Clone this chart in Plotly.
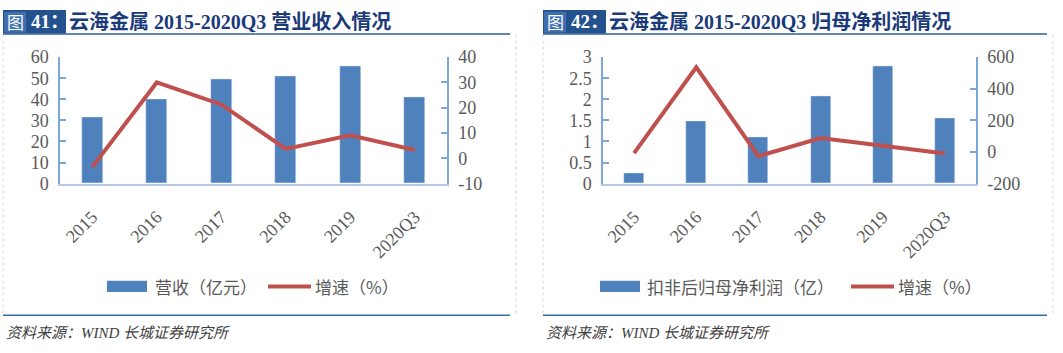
import plotly.graph_objects as go

W, H = 1063, 353

categories = ["2015", "2016", "2017", "2018", "2019", "2020Q3"]
revenue = [31.3, 40.3, 49.4, 51.0, 55.8, 40.9]
revenue_growth = [-3.5, 30.0, 21.3, 3.7, 9.1, 3.3]
profit = [0.24, 1.49, 1.10, 2.08, 2.79, 1.545]
profit_growth = [-7, 536, -27, 88, 39, -9]

left_y_ticks = [0, 10, 20, 30, 40, 50, 60]
left_y2_ticks = [-10, 0, 10, 20, 30, 40]
right_y_ticks = [0, 0.5, 1, 1.5, 2, 2.5, 3]
right_y2_ticks = [-200, 0, 200, 400, 600]

title_left = "云海金属 2015-2020Q3 营业收入情况"
title_right = "云海金属 2015-2020Q3 归母净利润情况"
fig_no_left = "41："
fig_no_right = "42："
legend_left = ["营收（亿元）", "增速（%）"]
legend_right = ["扣非后归母净利润（亿）", "增速（%）"]
source_text = "资料来源：<i>WIND</i> 长城证券研究所"

BAR = "#4f81bd"
LINE = "#c0504d"
AXIS = "#7ea6d8"
BOTTOM = "#b7c9e2"
TICKC = "#595959"
NAVY = "#1b3a7a"
SERIF = "Liberation Serif, Times New Roman, serif"
CJK = "Noto Sans CJK SC, sans-serif"
MIX = "Liberation Serif, Noto Sans CJK SC, serif"


def px(x):
    return x / W


def py(y):
    return 1 - y / H


def labels(vals):
    return [("%g" % v) for v in vals]


fig = go.Figure()

fig.add_trace(go.Bar(x=categories, y=revenue, marker_color=BAR, width=0.32,
                     xaxis="x", yaxis="y", showlegend=False))
fig.add_trace(go.Scatter(x=categories, y=revenue_growth, mode="lines",
                         line=dict(color=LINE, width=4), xaxis="x", yaxis="y2",
                         showlegend=False))
fig.add_trace(go.Bar(x=categories, y=profit, marker_color=BAR, width=0.32,
                     xaxis="x2", yaxis="y3", showlegend=False))
fig.add_trace(go.Scatter(x=categories, y=profit_growth, mode="lines",
                         line=dict(color=LINE, width=4), xaxis="x2", yaxis="y4",
                         showlegend=False))

ydom = [py(184), py(50)]
tickfont = dict(family=SERIF, size=18, color=TICKC)

xcommon = dict(type="category", showline=True, linecolor=BOTTOM, linewidth=1.5,
               ticks="", tickangle=-45, tickfont=tickfont, showgrid=False,
               ticklabelstandoff=14, fixedrange=True)
ycommon = dict(showline=True, linecolor=AXIS, linewidth=1.5, ticks="inside",
               ticklen=6, tickcolor=AXIS, tickwidth=1.5, tickfont=tickfont,
               showgrid=False, zeroline=False, ticklabelstandoff=6, fixedrange=True,
               tickmode="array")

fig.update_layout(
    width=W, height=H, margin=dict(l=0, r=0, t=0, b=0),
    paper_bgcolor="white", plot_bgcolor="white", bargap=0,
    xaxis=dict(domain=[px(60), px(447)], anchor="y", **xcommon),
    yaxis=dict(domain=ydom, anchor="x", range=[0, 60], tickvals=left_y_ticks,
               ticktext=labels(left_y_ticks), **ycommon),
    yaxis2=dict(domain=ydom, anchor="x", overlaying="y", side="right",
                range=[-10, 40], tickvals=left_y2_ticks,
                ticktext=labels(left_y2_ticks), **ycommon),
    xaxis2=dict(domain=[px(603), px(976)], anchor="y3", **xcommon),
    yaxis3=dict(domain=ydom, anchor="x2", range=[0, 3], tickvals=right_y_ticks,
                ticktext=labels(right_y_ticks), **ycommon),
    yaxis4=dict(domain=ydom, anchor="x2", overlaying="y3", side="right",
                range=[-200, 600], tickvals=right_y2_ticks,
                ticktext=labels(right_y2_ticks), **ycommon),
)

shapes = []
annotations = []


def panel(x0, x1, fig_no, title, legend_texts, leg_bar_x, leg_txt1_x, leg_line_x, leg_txt2_x):
    # dotted frame
    shapes.append(dict(type="line", xref="paper", yref="paper", x0=px(x0), x1=px(x0),
                       y0=py(26), y1=py(322), line=dict(color="#d6d6d6", width=1, dash="dot")))
    shapes.append(dict(type="line", xref="paper", yref="paper", x0=px(x1 + 6), x1=px(x1 + 6),
                       y0=py(26), y1=py(322), line=dict(color="#d6d6d6", width=1, dash="dot")))
    # title box
    shapes.append(dict(type="rect", xref="paper", yref="paper", x0=px(x0), x1=px(x0 + 63),
                       y0=py(25), y1=py(0), fillcolor="#23528f", line=dict(width=0)))
    shapes.append(dict(type="rect", xref="paper", yref="paper", x0=px(x0 + 1), x1=px(x0 + 23),
                       y0=py(24), y1=py(2), fillcolor="#3f6fad", line=dict(width=0)))
    # title underline
    shapes.append(dict(type="line", xref="paper", yref="paper", x0=px(x0), x1=px(x1),
                       y0=py(25.5), y1=py(25.5), line=dict(color="#2f5c9a", width=1.5)))
    # footer line
    shapes.append(dict(type="line", xref="paper", yref="paper", x0=px(x0), x1=px(x1),
                       y0=py(323.5), y1=py(323.5), line=dict(color="#3a6aa3", width=1.5)))
    annotations.append(dict(x=px(x0 + 12), y=py(12.5), xref="paper", yref="paper",
                            text="图", showarrow=False, xanchor="center", yanchor="middle",
                            font=dict(family=CJK, size=17, color="white")))
    annotations.append(dict(x=px(x0 + 26), y=py(12.5), xref="paper", yref="paper",
                            text="<b>" + fig_no + "</b>", showarrow=False, xanchor="left",
                            yanchor="middle", font=dict(family=MIX, size=19, color="white")))
    annotations.append(dict(x=px(x0 + 64), y=py(12.5), xref="paper", yref="paper",
                            text="<b>" + title + "</b>", showarrow=False, xanchor="left",
                            yanchor="middle", font=dict(family=MIX, size=20, color=NAVY)))
    # legend
    shapes.append(dict(type="rect", xref="paper", yref="paper", x0=px(leg_bar_x),
                       x1=px(leg_bar_x + 40), y0=py(299), y1=py(287), fillcolor=BAR,
                       line=dict(width=0)))
    shapes.append(dict(type="line", xref="paper", yref="paper", x0=px(leg_line_x),
                       x1=px(leg_line_x + 43), y0=py(293), y1=py(293),
                       line=dict(color=LINE, width=4)))
    annotations.append(dict(x=px(leg_txt1_x), y=py(293), xref="paper", yref="paper",
                            text=legend_texts[0], showarrow=False, xanchor="left",
                            yanchor="middle", font=dict(family=CJK, size=17, color=TICKC)))
    annotations.append(dict(x=px(leg_txt2_x), y=py(293), xref="paper", yref="paper",
                            text=legend_texts[1], showarrow=False, xanchor="left",
                            yanchor="middle", font=dict(family=CJK, size=17, color=TICKC)))
    # footer text
    annotations.append(dict(x=px(x0 + 1), y=py(342), xref="paper", yref="paper",
                            text="<i>" + source_text + "</i>", showarrow=False, xanchor="left",
                            yanchor="middle", font=dict(family=MIX, size=15, color="#404040")))


panel(3, 510, fig_no_left, title_left, legend_left, 107, 153, 268, 313)
panel(543, 1047, fig_no_right, title_right, legend_right, 600, 645, 851, 896)

fig.update_layout(shapes=shapes, annotations=annotations)
fig.write_html("out.html")
